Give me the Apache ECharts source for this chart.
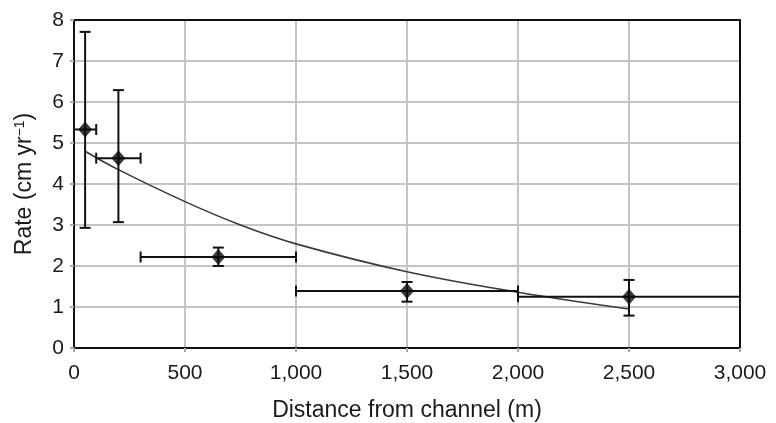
<!DOCTYPE html>
<html>
<head>
<meta charset="utf-8">
<script src="https://cdn.jsdelivr.net/npm/echarts@6/dist/echarts.min.js"></script>
<style>
  html, body { margin: 0; padding: 0; background: #fff; }
  #chart { width: 776px; height: 423px; }
</style>
</head>
<body>
<div id="chart"></div>
<script>
// Measured deposition rate versus distance from the channel
const distance   = [50, 200, 650, 1500, 2500];     // m, point positions
const rate       = [5.33, 4.63, 2.22, 1.39, 1.25]; // cm/yr
const rateLow    = [2.93, 3.07, 2.0, 1.13, 0.79];  // lower whisker
const rateHigh   = [7.71, 6.29, 2.45, 1.61, 1.66]; // upper whisker
const distLow    = [0, 100, 300, 1000, 2000];      // distance band start
const distHigh   = [100, 300, 1000, 2000, 3000];   // distance band end

// Fitted decay curve
const fitDistance = [50, 200, 500, 750, 1000, 1500, 2000, 2500];
const fitRate     = [4.80, 4.35, 3.57, 3.00, 2.54, 1.86, 1.36, 0.95];

const xTicks = [0, 500, 1000, 1500, 2000, 2500, 3000];
const yTicks = [0, 1, 2, 3, 4, 5, 6, 7, 8];

const FONT = '"Liberation Sans", Arial, Helvetica, sans-serif';
const chart = echarts.init(document.getElementById('chart'), null, { renderer: 'canvas' });

const points = distance.map((d, i) => [d, rate[i]]);
const bars = distance.map((d, i) => [d, rate[i], rateLow[i], rateHigh[i], distLow[i], distHigh[i]]);
const fit = fitDistance.map((d, i) => [d, fitRate[i]]);

function renderErrorBars(params, api) {
  const x = api.value(0), y = api.value(1);
  const yl = api.value(2), yh = api.value(3);
  const xl = api.value(4), xh = api.value(5);
  const pLo = api.coord([x, yl]);
  const pHi = api.coord([x, yh]);
  const pL = api.coord([xl, y]);
  const pR = api.coord([xh, y]);
  const cw = 5.5;
  const style = { stroke: '#111', lineWidth: 2, fill: null };
  const seg = (x1, y1, x2, y2) => ({ type: 'line', shape: { x1, y1, x2, y2 }, style });
  return {
    type: 'group',
    children: [
      seg(pLo[0], pLo[1], pHi[0], pHi[1]),
      seg(pLo[0] - cw, pLo[1], pLo[0] + cw, pLo[1]),
      seg(pHi[0] - cw, pHi[1], pHi[0] + cw, pHi[1]),
      seg(pL[0], pL[1], pR[0], pR[1]),
      seg(pL[0], pL[1] - cw, pL[0], pL[1] + cw),
      seg(pR[0], pR[1] - cw, pR[0], pR[1] + cw)
    ]
  };
}

// Plain black lines closing the plot frame on the top and right
const frameAxis = {
  type: 'value',
  axisLine: { show: true, onZero: false, lineStyle: { color: '#111', width: 2 } },
  axisTick: { show: false },
  axisLabel: { show: false },
  splitLine: { show: false }
};

chart.setOption({
  animation: false,
  backgroundColor: '#ffffff',
  grid: { left: 74, right: 36, top: 20, bottom: 75, outerBoundsMode: 'none', containLabel: false },
  xAxis: [
    {
      type: 'value',
      min: xTicks[0], max: xTicks[xTicks.length - 1], interval: 500,
      name: 'Distance from channel (m)',
      nameLocation: 'middle', nameGap: 51,
      nameTextStyle: { fontFamily: FONT, fontSize: 23, color: '#1a1a1a' },
      axisLine: { show: true, onZero: false, lineStyle: { color: '#111', width: 2 } },
      axisTick: { show: true, length: 4, lineStyle: { color: '#aaa', width: 2 } },
      axisLabel: {
        fontFamily: FONT, fontSize: 21, color: '#1a1a1a', margin: 15,
        formatter: v => v.toLocaleString('en-US')
      },
      splitLine: { show: true, lineStyle: { color: '#c4c4c4', width: 2 } }
    },
    Object.assign({ position: 'top', min: xTicks[0], max: xTicks[xTicks.length - 1] }, frameAxis)
  ],
  yAxis: [
    {
      type: 'value',
      min: yTicks[0], max: yTicks[yTicks.length - 1], interval: 1,
      name: 'Rate (cm yr{sup|−1})',
      nameLocation: 'middle', nameGap: 38, nameRotate: 90,
      nameTextStyle: {
        fontFamily: FONT, fontSize: 23, color: '#1a1a1a',
        rich: { sup: { fontFamily: FONT, fontSize: 14, color: '#1a1a1a', verticalAlign: 'top', padding: [0, 0, 9, 0] } }
      },
      axisLine: { show: true, onZero: false, lineStyle: { color: '#111', width: 2 } },
      axisTick: { show: true, length: 4, lineStyle: { color: '#aaa', width: 2 } },
      axisLabel: { fontFamily: FONT, fontSize: 21, color: '#1a1a1a', margin: 10 },
      splitLine: { show: true, lineStyle: { color: '#c4c4c4', width: 2 } }
    },
    Object.assign({ position: 'right', min: yTicks[0], max: yTicks[yTicks.length - 1] }, frameAxis)
  ],
  series: [
    {
      type: 'line',
      data: fit,
      smooth: 0.4,
      symbol: 'none',
      lineStyle: { color: '#3a3a3a', width: 1.6 },
      z: 3
    },
    {
      type: 'custom',
      data: bars,
      renderItem: renderErrorBars,
      encode: { x: 0, y: 1 },
      clip: false,
      z: 4
    },
    {
      type: 'scatter',
      data: points,
      symbol: 'diamond',
      symbolSize: [14, 16],
      itemStyle: { color: '#0a0a0a' },
      z: 5
    }
  ]
});
</script>
</body>
</html>
